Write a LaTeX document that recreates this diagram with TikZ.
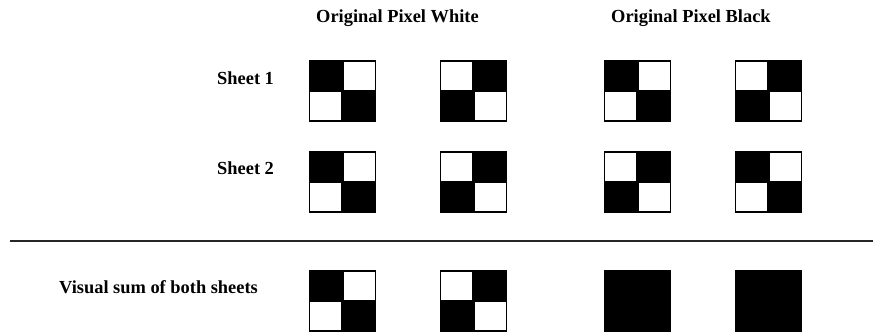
\documentclass[tikz,border=0pt]{standalone}
\usepackage{fontspec}
\setmainfont{Liberation Serif}
\tikzset{
  lbl/.style={font=\fontsize{18.4}{20}\selectfont\bfseries, inner sep=0pt, anchor=west, text=black},
  pics/checkA/.style={code={
    \fill[black] (0,0) rectangle (67,62);
    \fill[white] (34.7,1.7) rectangle (65.6,30);
    \fill[white] (1.4,31.7) rectangle (32.4,60.3);
  }},
  pics/checkB/.style={code={
    \fill[black] (0,0) rectangle (67,62);
    \fill[white] (1.4,1.7) rectangle (32.4,30);
    \fill[white] (34.7,31.7) rectangle (65.6,60.3);
  }},
  pics/solid/.style={code={
    \fill[black] (0,0) rectangle (67,62);
  }}
}
\begin{document}
\begin{tikzpicture}[x=1pt,y=-1pt]
\useasboundingbox (0,0) rectangle (873,335);
% titles
\node[lbl] (tw) at (316,18) {Original Pixel White};
\node[lbl] (tb) at (611,18) {Original Pixel Black};
\node[lbl] (s1) at (217,78) {Sheet 1};
\node[lbl] (s2) at (217,168) {Sheet 2};
\node[lbl] (vs) at (59,287) {Visual sum of both sheets};
% row 1
\pic at (309,60) {checkA};
\pic at (440,60) {checkB};
\pic at (604,60) {checkA};
\pic at (735,60) {checkB};
% row 2
\pic at (309,151) {checkA};
\pic at (440,151) {checkB};
\pic at (604,151) {checkB};
\pic at (735,151) {checkA};
% separator
\coordinate (la) at (10,241);
\coordinate (lb) at (873,241);
\draw[line width=1.6pt, black!85] (la) -- (lb);
% row 3
\pic at (309,270) {checkA};
\pic at (440,270) {checkB};
\pic at (604,270) {solid};
\pic at (735,270) {solid};
\end{tikzpicture}
\end{document}
